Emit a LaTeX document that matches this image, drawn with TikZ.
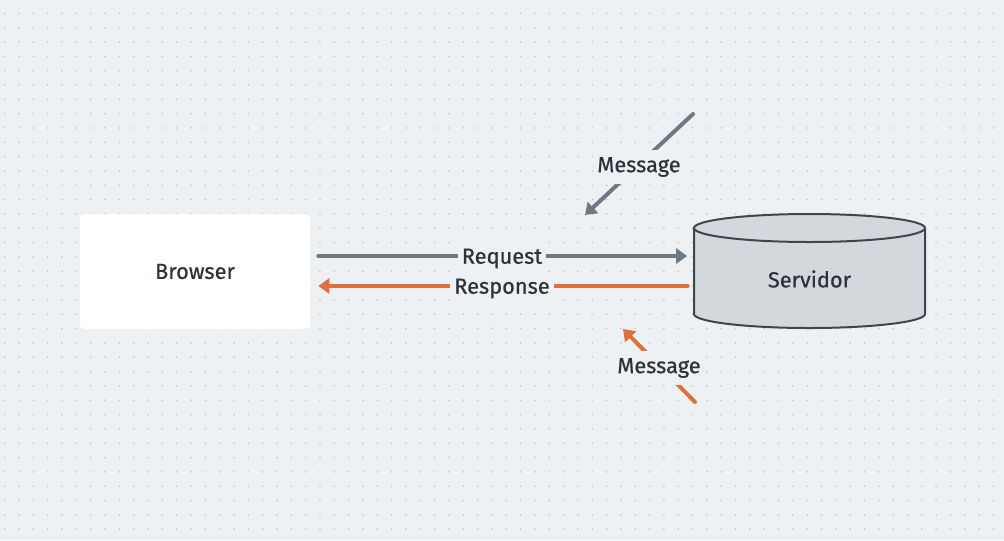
\documentclass[tikz,border=0pt]{standalone}
\usepackage{fontspec}
\setmainfont{Fira Sans}[FakeBold=0.6]
\usetikzlibrary{arrows.meta,positioning}
\definecolor{bgcol}{HTML}{EDF1F4}
\definecolor{dotcol}{HTML}{C3C9CF}
\definecolor{txtcol}{HTML}{2C3238}
\definecolor{reqcol}{HTML}{6D7A85}
\definecolor{rescol}{HTML}{E0703A}
\definecolor{cylfill}{HTML}{D4D8DC}
\definecolor{cylline}{HTML}{40464D}

\begin{document}
\begin{tikzpicture}[x=0.2mm,y=-0.2mm,
    lbl/.style={fill=bgcol, text=txtcol, inner xsep=0.8mm, inner ysep=1.4mm, yshift=-0.5mm, font=\fontsize{12.4}{14}\selectfont},
    reqline/.style={draw=reqcol, line width=0.8mm, line cap=round, -{Triangle[length=2.2mm,width=3mm]}},
    resline/.style={draw=rescol, line width=0.8mm, line cap=round, -{Triangle[length=2.2mm,width=3mm]}}]
        \fill[bgcol] (0,0) rectangle (1004,540);
        \useasboundingbox (0,0) rectangle (1004,540);
        \foreach \i in {0,...,69}
        \foreach \j in {0,...,36}
        \fill[dotcol] (4.7+14.33*\i,13.3+14.33*\j) circle[radius=0.2mm];
        % browser
        \node[fill=white, rounded corners=0.8mm, minimum width=46mm, minimum height=23mm, text=txtcol, font=\fontsize{12.4}{14}\selectfont] (browser) at (195,271.5) {Browser};
        % servidor
        \filldraw[fill=cylfill, draw=cylline, line width=0.4mm] (694,228) -- (694,314)
            arc[start angle=180, end angle=360, x radius=23.1mm, y radius=2.8mm] -- (925,228)
            arc[start angle=0, end angle=180, x radius=23.1mm, y radius=2.8mm] -- cycle;
        \draw[cylline, line width=0.4mm] (694,228) arc[start angle=180, end angle=360, x radius=23.1mm, y radius=2.8mm];
        \node[text=txtcol, minimum width=46.2mm, font=\fontsize{12.4}{14}\selectfont] (srv) at (809.5,279) {Servidor};
        \draw[reqline, shorten <=1.6mm, shorten >=1.3mm] (browser.east |- 0,256) -- node[lbl] {Request} (srv.west |- 0,256);
        \draw[resline, shorten <=1.2mm, shorten >=1.6mm] (srv.west |- 0,286) -- node[lbl] {Response} (browser.east |- 0,286);
        % messages
        \coordinate (msgin) at (693,114);
        \coordinate (msgin end) at (585,215);
        \coordinate (msgout) at (695,402);
        \coordinate (msgout end) at (623,329);
        \draw[reqline] (msgin) -- node[lbl] {Message} (msgin end);
        \draw[resline] (msgout) -- node[lbl] {Message} (msgout end);
      \end{tikzpicture}
\end{document}
